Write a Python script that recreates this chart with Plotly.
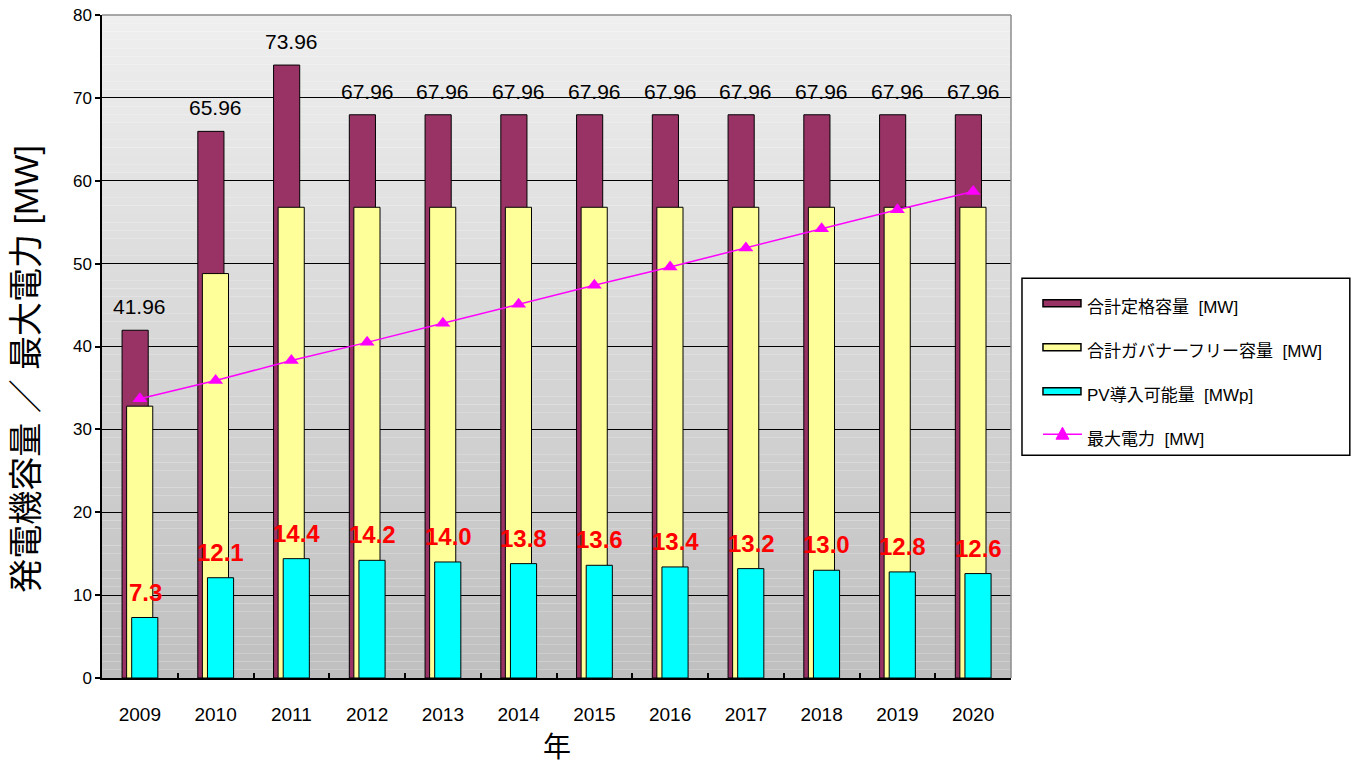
import plotly.graph_objects as go

# ---- data -------------------------------------------------------------
years = ["2009", "2010", "2011", "2012", "2013", "2014",
         "2015", "2016", "2017", "2018", "2019", "2020"]
rated_capacity = [41.96, 65.96, 73.96, 67.96, 67.96, 67.96,
                  67.96, 67.96, 67.96, 67.96, 67.96, 67.96]
governor_free = [32.8, 48.8, 56.8, 56.8, 56.8, 56.8,
                 56.8, 56.8, 56.8, 56.8, 56.8, 56.8]
pv_capacity = [7.3, 12.1, 14.4, 14.2, 14.0, 13.8,
               13.6, 13.4, 13.2, 13.0, 12.8, 12.6]
peak_demand = [33.7, 35.9, 38.3, 40.5, 42.8, 45.1,
               47.4, 49.6, 51.9, 54.2, 56.5, 58.7]

series_names = ["合計定格容量\u00a0\u00a0[MW]",
                "合計ガバナーフリー容量\u00a0\u00a0[MW]",
                "PV導入可能量\u00a0\u00a0[MWp]",
                "最大電力\u00a0\u00a0[MW]"]
y_title = "発電機容量 ／ 最大電力 [MW]"
x_title = "年"

# ---- style ------------------------------------------------------------
MAROON = "#993366"
YELLOW = "#ffff99"
CYAN = "#00ffff"
MAGENTA = "#ff00ff"
FONT = 'Arial, "Liberation Sans", "Noto Sans CJK JP", sans-serif'

W, H = 1358, 767
PL, PR, PT, PB = 101.5, 1011.0, 14.5, 678.0   # plot area in pixels


def xp(px):
    return (px - PL) / (PR - PL)


def yp(py):
    return (PB - py) / (PB - PT)


x = list(range(len(years)))
BAR_W = 0.345

fig = go.Figure()
fig.add_trace(go.Bar(x=x, y=rated_capacity, name=series_names[0],
                     width=BAR_W, offset=-0.235,
                     marker=dict(color=MAROON, line=dict(color="black", width=1)),
                     showlegend=False))
fig.add_trace(go.Bar(x=x, y=governor_free, name=series_names[1],
                     width=BAR_W, offset=-0.175,
                     marker=dict(color=YELLOW, line=dict(color="black", width=1)),
                     showlegend=False))
fig.add_trace(go.Bar(x=x, y=pv_capacity, name=series_names[2],
                     width=BAR_W, offset=-0.108,
                     marker=dict(color=CYAN, line=dict(color="black", width=1)),
                     showlegend=False))
fig.add_trace(go.Scatter(x=x, y=peak_demand, name=series_names[3],
                         mode="lines+markers",
                         line=dict(color=MAGENTA, width=1.5),
                         marker=dict(symbol="triangle-up", size=13, color=MAGENTA),
                         showlegend=False))

annotations = []
# value labels above the rated-capacity bars
for i, v in enumerate(rated_capacity):
    annotations.append(dict(x=i, y=v, xref="x", yref="y", text=f"{v:.2f}",
                            showarrow=False, yanchor="bottom", yshift=10,
                            font=dict(family=FONT, size=21, color="black")))
# value labels above the PV bars
for i, v in enumerate(pv_capacity):
    annotations.append(dict(x=i + 0.07, y=v, xref="x", yref="y", text=f"{v:.1f}",
                            showarrow=False, yanchor="bottom", yshift=10,
                            font=dict(family=FONT, size=24, color="#ff0000",
                                      weight="bold")))

# axis titles
annotations.append(dict(x=xp(26), y=yp(369), xref="paper", yref="paper",
                        xanchor="center", yanchor="middle",
                        text=y_title, textangle=-90, showarrow=False,
                        font=dict(family=FONT, size=34, color="black")))
annotations.append(dict(x=xp(557), y=yp(748), xref="paper", yref="paper",
                        xanchor="center", yanchor="middle",
                        text=x_title, showarrow=False,
                        font=dict(family=FONT, size=28, color="black")))

shapes = []
# vertical gradient background of the plot area
N = 80
top_c, bot_c = 239, 191
for k in range(N):
    f = (k + 0.5) / N
    c = round(bot_c + (top_c - bot_c) * f)
    shapes.append(dict(type="rect", xref="paper", yref="paper",
                       x0=0, x1=1, y0=k / N, y1=(k + 1) / N,
                       fillcolor=f"rgb({c},{c},{c})", line=dict(width=0),
                       layer="below"))
# grey frame on top and right of the plot area
shapes.append(dict(type="line", xref="paper", yref="paper", x0=0, x1=1, y0=1, y1=1,
                   line=dict(color="#8c8c8c", width=1.5), layer="above"))
shapes.append(dict(type="line", xref="paper", yref="paper", x0=1, x1=1, y0=0, y1=1,
                   line=dict(color="#8c8c8c", width=1.5), layer="above"))

# legend box
shapes.append(dict(type="rect", xref="paper", yref="paper",
                   x0=xp(1022), x1=xp(1350), y0=yp(455), y1=yp(278),
                   fillcolor="white", line=dict(color="black", width=1.5),
                   layer="above"))
row_y = [307, 351, 395, 439]
swatch_colors = [MAROON, YELLOW, CYAN]
for r, col in enumerate(swatch_colors):
    cy = row_y[r] - 4
    shapes.append(dict(type="rect", xref="paper", yref="paper",
                       x0=xp(1043), x1=xp(1081), y0=yp(cy + 3.5), y1=yp(cy - 3.5),
                       fillcolor=col, line=dict(color="black", width=1.5),
                       layer="above"))
# line-series key: segment with a triangle marker
ly = row_y[3] - 5
shapes.append(dict(type="line", xref="paper", yref="paper",
                   x0=xp(1043), x1=xp(1082), y0=yp(ly), y1=yp(ly),
                   line=dict(color=MAGENTA, width=1.5), layer="above"))
tx = 1062.5
tri = (f"M {xp(tx - 6.5)} {yp(ly + 5)} L {xp(tx + 6.5)} {yp(ly + 5)} "
       f"L {xp(tx)} {yp(ly - 7)} Z")
shapes.append(dict(type="path", xref="paper", yref="paper", path=tri,
                   fillcolor=MAGENTA, line=dict(color=MAGENTA, width=1),
                   layer="above"))
for r, name in enumerate(series_names):
    annotations.append(dict(x=xp(1085), y=yp(row_y[r]), xref="paper", yref="paper",
                            text=name, showarrow=False, xanchor="left",
                            yanchor="middle",
                            font=dict(family=FONT, size=17, color="black")))

fig.update_layout(
    width=W, height=H,
    margin=dict(l=PL, r=W - PR, t=PT, b=H - PB, pad=0, autoexpand=False),
    paper_bgcolor="white",
    plot_bgcolor="rgba(0,0,0,0)",
    barmode="overlay",
    showlegend=False,
    font=dict(family=FONT, color="black"),
    annotations=annotations,
    shapes=shapes,
    xaxis=dict(range=[-0.5, len(years) - 0.5], tickmode="array",
               tickvals=x, ticktext=years, ticks="",
               tickfont=dict(size=19, family=FONT), ticklabelstandoff=18,
               showgrid=False, zeroline=False, automargin=False,
               showline=True, linecolor="black", linewidth=1.5,
               minor=dict(tickmode="array",
                          tickvals=[i + 0.5 for i in range(len(years) - 1)],
                          ticks="inside", ticklen=5, tickcolor="black",
                          tickwidth=1.5, showgrid=False)),
    yaxis=dict(range=[0, 80], tickmode="array",
               tickvals=list(range(0, 81, 10)),
               ticks="outside", ticklen=5, tickcolor="black", tickwidth=1.5,
               tickfont=dict(size=17, family=FONT), automargin=False,
               showgrid=True, gridcolor="black", gridwidth=1,
               zeroline=False, showline=True, linecolor="black", linewidth=1.5),
)

fig.write_html("out.html")
